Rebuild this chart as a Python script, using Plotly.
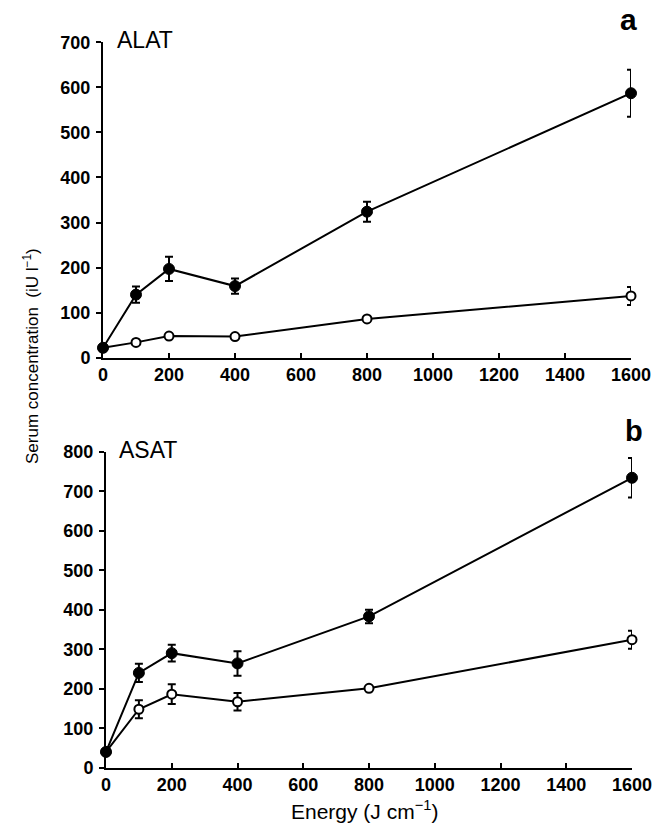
import plotly.graph_objects as go

energy = [0, 100, 200, 400, 800, 1600]

# Panel a: ALAT
alat_filled = [22, 140, 197, 159, 324, 587]
alat_filled_err = [0, 18, 27, 17, 22, 52]
alat_open = [22, 34, 48, 47, 86, 137]
alat_open_err = [0, 0, 0, 0, 0, 20]

# Panel b: ASAT
asat_filled = [40, 240, 290, 264, 383, 734]
asat_filled_err = [0, 23, 21, 31, 17, 50]
asat_open = [40, 148, 186, 167, 201, 324]
asat_open_err = [0, 23, 25, 22, 0, 23]

x_ticks = [0, 200, 400, 600, 800, 1000, 1200, 1400, 1600]
y_ticks_a = [0, 100, 200, 300, 400, 500, 600, 700]
y_ticks_b = [0, 100, 200, 300, 400, 500, 600, 700, 800]

FONT = "Liberation Sans"
W, H = 661, 825

fig = go.Figure()


def add_series(x, y, err, filled, xa, ya):
    if filled:
        marker = dict(symbol="circle", size=11, color="black",
                      line=dict(color="black", width=1))
    else:
        marker = dict(symbol="circle", size=9, color="white",
                      line=dict(color="black", width=2))
    fig.add_trace(go.Scatter(
        x=x, y=y, mode="lines+markers", xaxis=xa, yaxis=ya,
        line=dict(color="black", width=2), marker=marker,
        error_y=dict(type="data", array=err, visible=True,
                     color="black", thickness=2, width=4),
        cliponaxis=False, showlegend=False, hoverinfo="skip"))


add_series(energy, alat_open, alat_open_err, False, "x", "y")
add_series(energy, alat_filled, alat_filled_err, True, "x", "y")
add_series(energy, asat_open, asat_open_err, False, "x2", "y2")
add_series(energy, asat_filled, asat_filled_err, True, "x2", "y2")

tickfont = dict(family=FONT, size=18, color="black", weight="bold")

xcommon = dict(range=[0, 1600], tickvals=x_ticks, ticks="inside", ticklen=5,
               tickwidth=2, tickcolor="black", showline=True, linewidth=2,
               linecolor="black", showgrid=False, zeroline=False,
               tickfont=tickfont, automargin=False)
ycommon = dict(ticks="outside", ticklen=5, tickwidth=2, tickcolor="black",
               showline=True, linewidth=2, linecolor="black", showgrid=False,
               zeroline=False, tickfont=tickfont, automargin=False,
               ticklabelstandoff=2)

fig.update_layout(
    width=W, height=H,
    margin=dict(l=0, r=0, t=0, b=0),
    plot_bgcolor="white", paper_bgcolor="white",
    xaxis=dict(domain=[103 / W, 631 / W], anchor="y", **xcommon),
    yaxis=dict(domain=[1 - 357.7 / H, 1 - 42.3 / H], anchor="x",
               range=[0, 700], tickvals=y_ticks_a, **ycommon),
    xaxis2=dict(domain=[106 / W, 632 / W], anchor="y2", **xcommon),
    yaxis2=dict(domain=[1 - 767.7 / H, 1 - 451.7 / H], anchor="x2",
                range=[0, 800], tickvals=y_ticks_b, **ycommon),
)

ann = [
    dict(text="ALAT", x=145 / W, y=1 - 40 / H, size=23, bold=False),
    dict(text="ASAT", x=148 / W, y=1 - 450 / H, size=23, bold=False),
    dict(text="a", x=628 / W, y=1 - 19 / H, size=30, bold=True),
    dict(text="b", x=634 / W, y=1 - 431 / H, size=29, bold=True),
    dict(text="Energy (J cm<sup>\u22121</sup>)", x=365 / W, y=1 - 810 / H,
         size=21, bold=False),
]
for a in ann:
    fig.add_annotation(
        text=a["text"], x=a["x"], y=a["y"], xref="paper", yref="paper",
        showarrow=False, xanchor="center", yanchor="middle",
        font=dict(family=FONT, size=a["size"], color="black",
                  weight="bold" if a["bold"] else "normal"))

fig.add_annotation(
    text="Serum concentration\u00a0\u00a0(iU l<sup>\u22121</sup>)",
    x=31 / W, y=1 - 356 / H, xref="paper", yref="paper", showarrow=False,
    textangle=-90, xanchor="center", yanchor="middle",
    font=dict(family=FONT, size=17, color="black"))

fig.write_html(
    "out.html",
    config={"displayModeBar": False},
    post_script="document.body.style.margin='0';"
                "document.body.style.overflow='hidden';")
